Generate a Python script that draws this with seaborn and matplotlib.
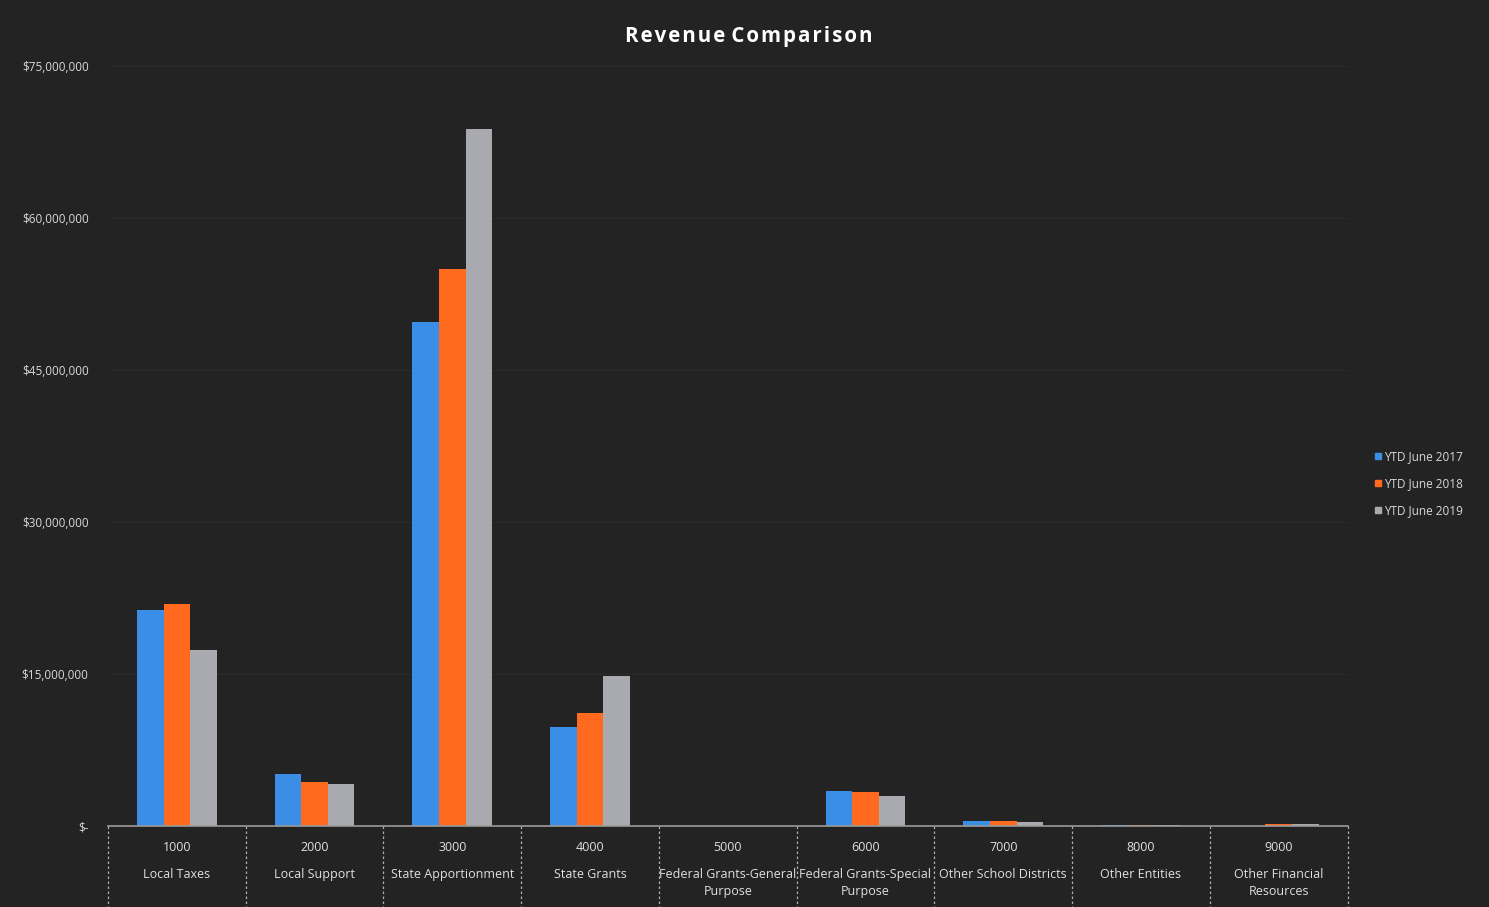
import matplotlib
matplotlib.use("Agg")
import matplotlib.pyplot as plt
import seaborn as sns
import pandas as pd
from matplotlib.ticker import FuncFormatter
from matplotlib.lines import Line2D

codes = ["1000", "2000", "3000", "4000", "5000", "6000", "7000", "8000", "9000"]
names = ["Local Taxes", "Local Support", "State Apportionment", "State Grants",
         "Federal Grants-General\nPurpose", "Federal Grants-Special\nPurpose",
         "Other School Districts", "Other Entities", "Other Financial\nResources"]
series = ["YTD June 2017", "YTD June 2018", "YTD June 2019"]
ytd_2017 = [21300000, 5100000, 49800000, 9800000, 20000, 3500000, 500000, 80000, 30000]
ytd_2018 = [21900000, 4300000, 55000000, 11200000, 20000, 3400000, 500000, 100000, 200000]
ytd_2019 = [17400000, 4100000, 68800000, 14800000, 20000, 3000000, 350000, 100000, 200000]
colors = ["#3a8ee6", "#ff6a1f", "#a9a9b0"]
yticks = [0, 15000000, 30000000, 45000000, 60000000, 75000000]

rows = []
for s, vals in zip(series, [ytd_2017, ytd_2018, ytd_2019]):
    for c, v in zip(codes, vals):
        rows.append({"code": c, "series": s, "value": v})
df = pd.DataFrame(rows)

sns.set_theme(style="dark")
plt.rcParams["font.family"] = ["Open Sans", "DejaVu Sans"]
bg = "#242323"
fig = plt.figure(figsize=(14.89, 9.07), dpi=100, facecolor=bg)
ax = fig.add_axes([0.0725, 0.0893, 0.8325, 0.8377])
ax.set_facecolor(bg)

sns.barplot(data=df, x="code", y="value", hue="series", order=codes,
            hue_order=series, palette=colors, width=0.58, gap=0,
            saturation=1, ax=ax, legend=False, errorbar=None,
            linewidth=0, edgecolor="none")

ax.set_xlim(-0.5, 8.5)
ax.set_ylim(0, 75000000)
ax.set_yticks(yticks)
ax.yaxis.set_major_formatter(FuncFormatter(lambda v, p: "$-" if v == 0 else f"${v:,.0f}"))
ax.tick_params(axis="y", colors="#d8d8d8", labelsize=8.5, length=0, pad=14)
ax.tick_params(axis="x", colors="#e0e0e0", labelsize=9, length=0, pad=11)
ax.set_xlabel("")
ax.set_ylabel("")
ax.grid(axis="y", color="#2c2b2b", lw=0.8)
ax.grid(axis="x", visible=False)
ax.set_axisbelow(True)
for side in ["top", "right", "left"]:
    ax.spines[side].set_visible(False)
ax.spines["bottom"].set_color("#9a9a9a")
ax.spines["bottom"].set_linewidth(1.2)

for i, nm in enumerate(names):
    ax.text(i, -0.055, nm, transform=ax.get_xaxis_transform(), ha="center", va="top",
            color="#e0e0e0", fontsize=9, linespacing=1.4)

xt = ax.get_xaxis_transform()
for b in [x - 0.5 for x in range(10)]:
    ax.plot([b, b], [0, -0.11], transform=xt, clip_on=False, color="#b0b0b0",
            lw=0.9, ls=(0, (2, 2)))

fig.text(0.503, 0.96, "R e v e n u e   C o m p a r i s o n".replace(" ", "\u200a"),
         color="white", fontsize=14.8, fontweight="bold", ha="center", va="center")

handles = [Line2D([0], [0], marker="s", ls="", color=c, markersize=5) for c in colors]
leg = fig.legend(handles, series, loc="center left", bbox_to_anchor=(0.915, 0.467),
                 frameon=False, fontsize=8.5, labelspacing=1.2, handletextpad=0.1,
                 handlelength=0.8)
for t in leg.get_texts():
    t.set_color("#d8d8d8")

fig.savefig("out.png", dpi=100, facecolor=bg)
